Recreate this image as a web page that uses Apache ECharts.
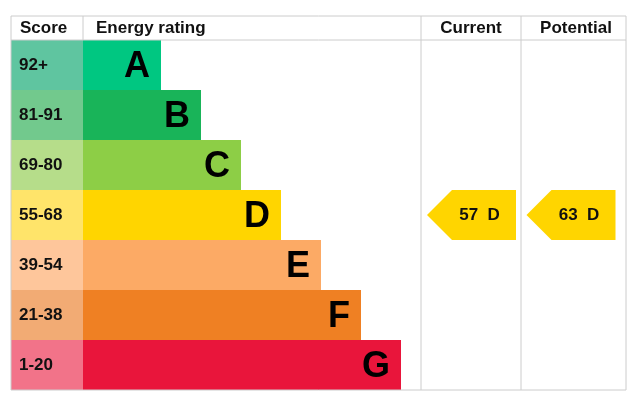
<!DOCTYPE html>
<html><head><meta charset="utf-8">
<script src="https://cdn.jsdelivr.net/npm/echarts@6/dist/echarts.min.js"></script>
<style>html,body{margin:0;padding:0;background:#fff}#c{width:634px;height:402px}</style>
</head><body><div id="c"></div>
<script>
const ratings = ['A','B','C','D','E','F','G'];
const scores = ['92+','81-91','69-80','55-68','39-54','21-38','1-20'];
const barLengths = [78,118,158,198,238,278,318];
const barColors = ['#00c781','#19b459','#8dce46','#ffd500','#fcaa65','#ef8023','#e9153b'];
const scoreColors = ['#5fc5a0','#72c98d','#b6dd8a','#ffe46a','#fec69b','#f2ab74','#f27389'];
const currentScore = 57, currentRating = 'D';
const potentialScore = 63, potentialRating = 'D';

const font = 'Liberation Sans, Arial, sans-serif';
const chart = echarts.init(document.getElementById('c'));
const yCat = (gi) => ({type:'category',gridIndex:gi,data:ratings,inverse:true,show:false});
const grids = [
  {left:11,top:40,width:72,height:350},
  {left:83,top:40,width:338,height:350},
  {left:421,top:40,width:100,height:350},
  {left:521,top:40,width:105,height:350}
];
const arrowPath = 'path://M0,25 L25,0 L89,0 L89,50 L25,50 Z';
function ratingIdx(r){return ratings.indexOf(r);}
chart.setOption({
  animation:false,
  grid:grids,
  xAxis:[
    {type:'value',gridIndex:0,min:0,max:1,show:false},
    {type:'value',gridIndex:1,min:0,max:338,show:false},
    {type:'value',gridIndex:2,min:0,max:100,show:false},
    {type:'value',gridIndex:3,min:0,max:105,show:false}
  ],
  yAxis:[yCat(0),yCat(1),yCat(2),yCat(3)],
  series:[
    {type:'bar',xAxisIndex:0,yAxisIndex:0,barCategoryGap:0,
     data:scores.map((s,i)=>({value:1,itemStyle:{color:scoreColors[i]}})),
     label:{show:true,position:'insideLeft',offset:[3,0],formatter:p=>scores[p.dataIndex],
       fontFamily:font,fontWeight:'bold',fontSize:17,color:'#111'}},
    {type:'bar',xAxisIndex:1,yAxisIndex:1,barCategoryGap:0,
     data:barLengths.map((v,i)=>({value:v,itemStyle:{color:barColors[i]}})),
     label:{show:true,position:'insideRight',offset:[-6,2],formatter:p=>ratings[p.dataIndex],
       fontFamily:font,fontWeight:'bold',fontSize:36,color:'#000'}},
    {type:'scatter',xAxisIndex:2,yAxisIndex:2,symbol:arrowPath,symbolSize:[89,50],
     data:[[50.5,ratingIdx(currentRating)]],itemStyle:{color:'#ffd500',opacity:1},
     label:{show:true,position:'inside',offset:[8,0],formatter:currentScore+'  '+currentRating,
       fontFamily:font,fontWeight:'bold',fontSize:17,color:'#111'}},
    {type:'scatter',xAxisIndex:3,yAxisIndex:3,symbol:arrowPath,symbolSize:[89,50],
     data:[[50,ratingIdx(potentialRating)]],itemStyle:{color:'#ffd500',opacity:1},
     label:{show:true,position:'inside',offset:[8,0],formatter:potentialScore+'  '+potentialRating,
       fontFamily:font,fontWeight:'bold',fontSize:17,color:'#111'}}
  ],
  graphic:[
    {type:'rect',shape:{x:11,y:16,width:615,height:374},style:{fill:'none',stroke:'#cccccc',lineWidth:1},z:10},
    {type:'line',shape:{x1:11,y1:40,x2:626,y2:40},style:{stroke:'#cccccc',lineWidth:1},z:10},
    {type:'line',shape:{x1:83,y1:16,x2:83,y2:40},style:{stroke:'#cccccc',lineWidth:1},z:10},
    {type:'line',shape:{x1:421,y1:16,x2:421,y2:390},style:{stroke:'#cccccc',lineWidth:1},z:10},
    {type:'line',shape:{x1:521,y1:16,x2:521,y2:390},style:{stroke:'#cccccc',lineWidth:1},z:10},
    {type:'text',x:20,y:28,style:{text:'Score',font:'bold 17px '+font,fill:'#111',verticalAlign:'middle'}},
    {type:'text',x:96,y:28,style:{text:'Energy rating',font:'bold 17px '+font,fill:'#111',verticalAlign:'middle'}},
    {type:'text',x:471,y:28,style:{text:'Current',font:'bold 17px '+font,fill:'#111',align:'center',verticalAlign:'middle'}},
    {type:'text',x:576,y:28,style:{text:'Potential',font:'bold 17px '+font,fill:'#111',align:'center',verticalAlign:'middle'}}
  ]
});
</script></body></html>
